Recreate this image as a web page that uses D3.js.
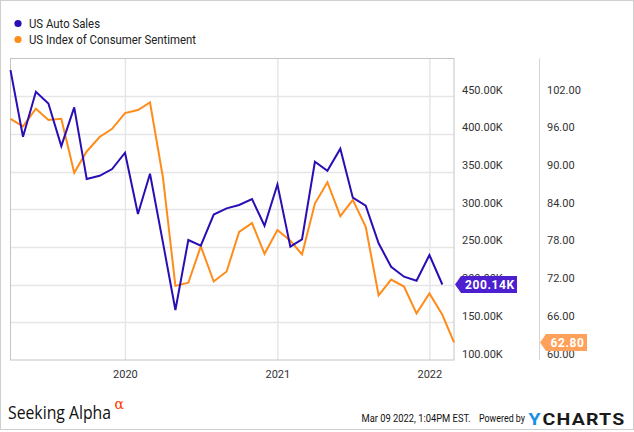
<!DOCTYPE html>
<html><head><meta charset="utf-8">
<script src="https://cdn.jsdelivr.net/npm/d3@7"></script>
<style>
html,body{margin:0;padding:0;background:#fff;}
svg{display:block;font-family:Roboto,"Noto Sans",sans-serif;}
</style></head>
<body><svg id="c" width="634" height="432"></svg>
<script>
// ---- data ----
const months = ["2019-03","2019-04","2019-05","2019-06","2019-07","2019-08","2019-09","2019-10","2019-11","2019-12",
"2020-01","2020-02","2020-03","2020-04","2020-05","2020-06","2020-07","2020-08","2020-09","2020-10","2020-11","2020-12",
"2021-01","2021-02","2021-03","2021-04","2021-05","2021-06","2021-07","2021-08","2021-09","2021-10","2021-11","2021-12",
"2022-01","2022-02"];
// US Auto Sales (thousands), Mar 2019 – Jan 2022
const autoSales = [484.6,396.2,455.9,440.4,383.8,435.1,340.1,344.4,353.3,375.0,
293.6,347.1,256.0,166.3,259.2,251.6,293.0,301.2,305.6,313.5,278.1,333.0,
250.3,260.1,363.0,351.1,380.3,315.3,304.7,254.8,223.7,210.5,205.2,239.3,
200.14];
// US Index of Consumer Sentiment, Mar 2019 – Feb 2022
const sentiment = [98.4,97.2,100.0,98.2,98.4,89.8,93.2,95.5,96.8,99.3,
99.8,101.0,89.1,71.8,72.3,78.1,72.5,74.1,80.4,81.8,76.9,80.7,
79.0,76.8,84.9,88.3,82.9,85.5,81.2,70.3,72.8,71.7,67.4,70.6,
67.2,62.8];
const leftTicks = [100,150,200,250,300,350,400,450];
const rightTicks = [60,66,72,78,84,90,96,102];
const yearTicks = ["2020","2021","2022"];
const seriesNames = ["US Auto Sales","US Index of Consumer Sentiment"];
const seriesColors = ["#2a0db4","#ff8c1a"];
const flagColors = ["#4c1fcf","#ffa15a"];

// ---- setup ----
const svg = d3.select("#c");
const monthEnd = s => { const [y,m] = s.split("-").map(Number); return new Date(Date.UTC(y, m, 0)); };
const dates = months.map(monthEnd);

const L = 10.5, R = 454, T = 58.5, B = 360;
const x = d3.scaleUtc().domain([dates[0], dates[dates.length-1]]).range([L, R]);
const yL = d3.scaleLinear().domain([100, 500]).range([B, T]);
const yR = d3.scaleLinear().domain([60, 108]).range([B, T]);

// outer border
svg.append("rect").attr("x",0.5).attr("y",0.5).attr("width",633).attr("height",429)
  .attr("fill","none").attr("stroke","#cfcfcf");

// gridlines
const g = svg.append("g");
g.selectAll(".hg").data(leftTicks.filter(v => v > 100)).join("line")
  .attr("x1", L).attr("x2", R).attr("y1", d => Math.round(yL(d))+0.5).attr("y2", d => Math.round(yL(d))+0.5)
  .attr("stroke","#e6e6e6").attr("stroke-width",1.5);
g.selectAll(".vg").data(yearTicks).join("line")
  .attr("x1", d => x(new Date(Date.UTC(+d,0,1)))).attr("x2", d => x(new Date(Date.UTC(+d,0,1))))
  .attr("y1", T).attr("y2", B).attr("stroke","#e6e6e6").attr("stroke-width",1.5);

// plot frame
svg.append("rect").attr("x",L).attr("y",T).attr("width",R-L).attr("height",B-T)
  .attr("fill","none").attr("stroke","#c4c4c4").attr("stroke-width",1);
// axis separator
svg.append("line").attr("x1",539.5).attr("x2",539.5).attr("y1",T).attr("y2",B)
  .attr("stroke","#d4d4d4");

// axis labels
const fL = d3.format(".2f");
svg.selectAll(".lt").data(leftTicks).join("text")
  .attr("x",462).attr("y", d => yL(d)-2.5).attr("font-size",11).attr("fill","#333")
  .text(d => fL(d)+"K");
svg.selectAll(".rt").data(rightTicks).join("text")
  .attr("x",547).attr("y", d => yR(d)-2.5).attr("font-size",11).attr("fill","#333")
  .text(d => fL(d));
svg.selectAll(".xt").data(yearTicks).join("text")
  .attr("x", d => x(new Date(Date.UTC(+d,0,1)))).attr("y",378).attr("text-anchor","middle")
  .attr("font-size",11).attr("fill","#333").text(d => d);

// lines
const lineL = d3.line().x((d,i) => x(dates[i])).y(d => yL(d));
const lineR = d3.line().x((d,i) => x(dates[i])).y(d => yR(d));
svg.append("path").datum(sentiment).attr("d", lineR).attr("fill","none")
  .attr("stroke",seriesColors[1]).attr("stroke-width",2).attr("stroke-linejoin","miter");
svg.append("path").datum(autoSales).attr("d", lineL).attr("fill","none")
  .attr("stroke",seriesColors[0]).attr("stroke-width",2).attr("stroke-linejoin","miter");

// flags
function flag(tipX, cy, right, color, label, textX){
  const h = 8.5;
  svg.append("path").attr("d",`M${tipX},${cy} L${tipX+6},${cy-h} L${right},${cy-h} L${right},${cy+h} L${tipX+6},${cy+h} Z`)
    .attr("fill",color);
  svg.append("text").attr("x",textX).attr("y",cy+4.3).attr("fill","#fff").attr("font-size",12)
    .attr("font-weight","bold").attr("letter-spacing",0.6).text(label);
}
flag(455, yL(autoSales[autoSales.length-1]), 517, flagColors[0], fL(autoSales[autoSales.length-1])+"K", 465);
flag(540, yR(sentiment[sentiment.length-1]), 587, flagColors[1], fL(sentiment[sentiment.length-1]), 550.5);

// legend
const legendWidths = [71, 167];
const lg = svg.append("g");
seriesNames.forEach((n,i) => {
  lg.append("circle").attr("cx",18).attr("cy",23.5+i*16).attr("r",3.6).attr("fill",seriesColors[i]);
  lg.append("text").attr("x",29).attr("y",27.5+i*16).attr("font-size",12).attr("fill","#222")
    .attr("textLength",legendWidths[i]).attr("lengthAdjust","spacingAndGlyphs").text(n);
});

// footer
svg.append("text").attr("x",8).attr("y",419).attr("font-family","'Open Sans',sans-serif")
  .attr("font-size",17.5).attr("fill","#111").attr("textLength",103).attr("lengthAdjust","spacingAndGlyphs")
  .text("Seeking Alpha");
svg.append("text").attr("x",114.5).attr("y",409).attr("font-family","'DejaVu Serif',serif")
  .attr("font-size",14).attr("fill","#ff3a00").text("α");
svg.append("text").attr("x",361.5).attr("y",422).attr("font-size",10).attr("fill","#111")
  .attr("textLength",109).attr("lengthAdjust","spacingAndGlyphs").text("Mar 09 2022, 1:04PM EST.");
svg.append("text").attr("x",479).attr("y",422).attr("font-size",10).attr("fill","#111")
  .attr("textLength",46).attr("lengthAdjust","spacingAndGlyphs").text("Powered by");
svg.append("text").attr("x",528.5).attr("y",424.5).attr("font-size",17).attr("font-weight","bold")
  .attr("fill","#1a8fe3").attr("textLength",12).attr("lengthAdjust","spacingAndGlyphs").text("Y");
svg.append("text").attr("x",542.5).attr("y",424.5).attr("font-size",16).attr("font-weight","bold")
  .attr("fill","#1a1a1a").attr("textLength",83).attr("lengthAdjust","spacingAndGlyphs")
  .attr("letter-spacing",1).text("CHARTS");
</script></body></html>
